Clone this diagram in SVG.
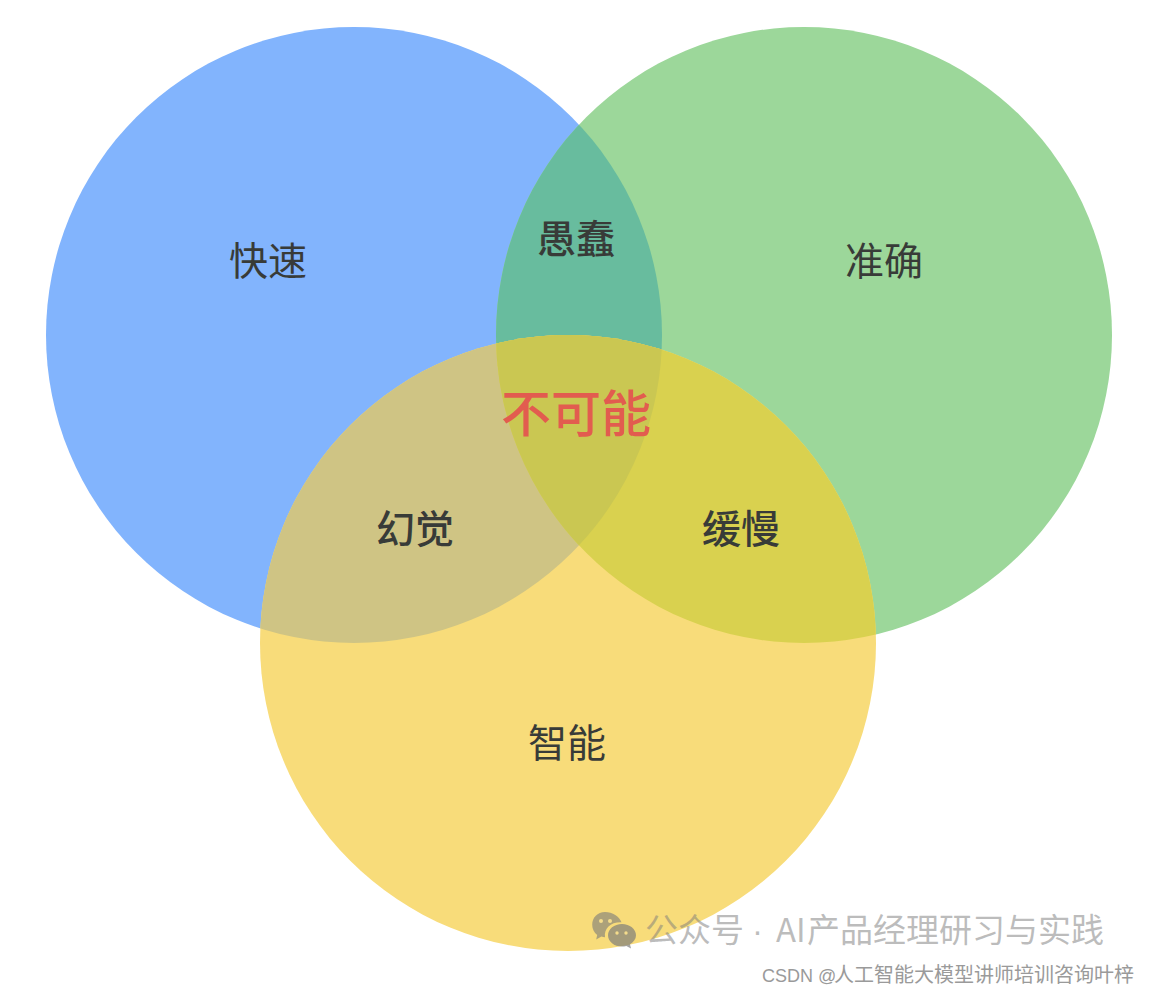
<svg xmlns="http://www.w3.org/2000/svg" width="1149" height="995" viewBox="0 0 1149 995">
<style>
.lb{font-family:"Noto Sans CJK SC","Noto Sans",sans-serif;font-size:39px;fill:#383b38;text-anchor:middle}
.md{font-weight:500}
.wm{font-family:"Noto Sans CJK SC","Noto Sans",sans-serif;font-size:33px;fill:#7a7a7a;fill-opacity:.5}
.cs{font-family:"Noto Sans CJK SC","Noto Sans",sans-serif;font-size:20px;fill:#9a9a9a}
.eye{fill:#f4dc8c}
</style>
<defs>
<clipPath id="cb"><circle cx="354" cy="335" r="308"/></clipPath>
<clipPath id="cg"><circle cx="804" cy="335" r="308"/></clipPath>
<clipPath id="cbg" clip-path="url(#cb)"><circle cx="804" cy="335" r="308"/></clipPath>
</defs>
<rect width="1149" height="995" fill="#ffffff"/>
<g id="set-speed"><circle cx="354" cy="335" r="308" fill="#82b4fd"/></g>
<g id="set-accuracy"><circle cx="804" cy="335" r="308" fill="#9cd79a"/></g>
<g id="overlap-speed-accuracy"><circle cx="804" cy="335" r="308" fill="#68bc9e" clip-path="url(#cb)"/></g>
<g id="set-intelligence"><circle cx="568" cy="643" r="308" fill="#f8dc7a"/></g>
<g id="overlap-speed-intelligence"><circle cx="568" cy="643" r="308" fill="#cfc484" clip-path="url(#cb)"/></g>
<g id="overlap-accuracy-intelligence"><circle cx="568" cy="643" r="308" fill="#d9d14f" clip-path="url(#cg)"/></g>
<g id="overlap-all"><circle cx="568" cy="643" r="308" fill="#cac752" clip-path="url(#cbg)"/></g>
<g id="labels">
<text class="lb" x="268" y="275">快速</text>
<text class="lb" x="884" y="275">准确</text>
<text class="lb md" x="576" y="253">愚蠢</text>
<text class="lb md" x="415" y="543">幻觉</text>
<text class="lb md" x="741" y="543">缓慢</text>
<text class="lb" x="567" y="757">智能</text>
<text x="576" y="432" style="font-family:'Noto Sans CJK SC','Noto Sans',sans-serif;font-size:50px;font-weight:500;fill:#e25c4f;text-anchor:middle">不可能</text>
</g>
<g id="watermark">
<path d="M605 912c-7.500 0-12.800 5.600-12.800 12.800 0 4.200 1.900 7.800 5 10.200l-1 4.500 5.200-2.900c1.300.4 2.500.6 3.600.7-1.200-9 5.500-15.300 16.500-15-2-5.800-9-10.300-16.500-10.300z" fill="#7a7a7a" fill-opacity=".6"/>
<path d="M622 924c-7.800 0-14 5-14 11.300s6.200 11.300 14 11.300c1.500 0 3-.2 4.300-.6l4.700 2.600-1-4.300c3.600-2.100 6-5.300 6-9 0-6.300-6.200-11.300-14-11.300z" fill="#7a7a7a" fill-opacity=".68"/>
<circle class="eye" cx="601" cy="921" r="2"/><circle class="eye" cx="610" cy="921" r="2"/>
<circle class="eye" cx="617" cy="933" r="1.700"/><circle class="eye" cx="626" cy="933" r="1.700"/>
<text class="wm" y="942"><tspan x="645">公众号</tspan><tspan x="752" font-family="'Liberation Sans',sans-serif">·</tspan><tspan x="776">AI</tspan><tspan x="807">产品经理研习与实践</tspan></text>
<text class="cs" y="982"><tspan x="762" font-family="'Liberation Sans',sans-serif" font-size="18">CSDN @</tspan><tspan x="834">人工智能大模型讲师培训咨询叶梓</tspan></text>
</g>
</svg>
